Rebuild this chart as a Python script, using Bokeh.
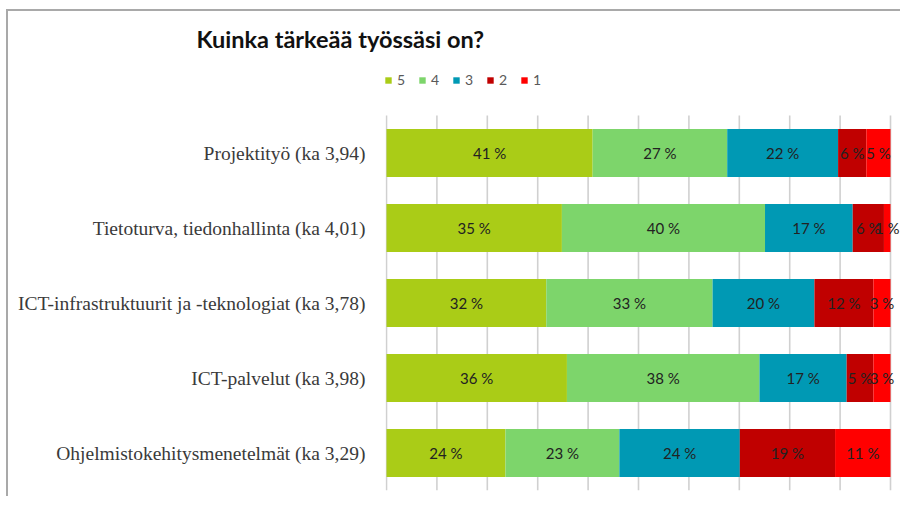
from bokeh.plotting import figure
from bokeh.models import (ColumnDataSource, Range1d, FixedTicker,
                          Legend, LegendItem, Title)
from bokeh.core.properties import value
from bokeh.embed import file_html
from bokeh.resources import INLINE

categories = [
    "Projektityö (ka 3,94)",
    "Tietoturva, tiedonhallinta (ka 4,01)",
    "ICT-infrastruktuurit ja -teknologiat (ka 3,78)",
    "ICT-palvelut (ka 3,98)",
    "Ohjelmistokehitysmenetelmät (ka 3,29)",
]
series_names = ["5", "4", "3", "2", "1"]
s5 = [40.9, 34.8, 31.7, 35.8, 23.6]
s4 = [26.7, 40.3, 33.0, 38.2, 22.6]
s3 = [22.0, 17.4, 20.2, 17.3, 23.9]
s2 = [5.6, 6.2, 11.7, 5.3, 18.9]
s1 = [4.8, 1.3, 3.4, 3.4, 11.0]
colors = ["#AACC17", "#7DD56B", "#0099B4", "#C00000", "#FF0000"]
grid_ticks = [0, 10, 20, 30, 40, 50, 60, 70, 80, 90, 100]
title_text = "Kuinka tärkeää työssäsi on?"

series = [s5, s4, s3, s2, s1]
keys = ["s5", "s4", "s3", "s2", "s1"]
n = len(categories)
ypos = [n - 1 - i for i in range(n)]          # first category on top
data = {"cat": categories, "y": ypos}
for k, s in zip(keys, series):
    data[k] = s
source = ColumnDataSource(data)

W = 894
PX_PER_ROW = 75.0
FRAME_H = 437
p = figure(
    width=W, height=487,
    x_range=Range1d(-0.2, -0.2 + (W - 377) / 5.04),
    y_range=Range1d(-0.5, -0.5 + FRAME_H / PX_PER_ROW),
    output_backend="svg", toolbar_location=None,
    min_border_left=377, min_border_right=0, min_border_top=42, min_border_bottom=8,
)
p.styles = {"margin-left": "8px", "margin-top": "11px",
            "box-shadow": "-2px -2px 0px 0px #a9a9a9"}
p.outline_line_color = None
p.background_fill_color = "white"
p.border_fill_color = "white"
p.grid.visible = False

# vertical gridlines spanning the category bands only
p.segment(x0=grid_ticks, x1=grid_ticks, y0=[min(ypos) - 0.5] * len(grid_ticks),
          y1=[max(ypos) + 0.5] * len(grid_ticks), line_color="#d0d0d0", line_width=1.6)

renderers = p.hbar_stack(keys, y="y", height=0.64, color=colors, line_color=None,
                         source=source)

lx, ly, lt = [], [], []
for i, c in enumerate(categories):
    left = 0.0
    for s in series:
        v = s[i]
        lx.append(left + v / 2)
        ly.append(ypos[i])
        lt.append(f"{round(v)} %")
        left += v
p.text(x=lx, y=ly, text=lt, text_align="center", text_baseline="middle",
       text_font=value("Lato"), text_font_size="15px", text_color="#222222")

p.xaxis.visible = False

yax = p.yaxis[0]
yax.ticker = FixedTicker(ticks=ypos)
yax.major_label_overrides = {y: c for y, c in zip(ypos, categories)}
yax.axis_line_color = None
yax.major_tick_line_color = None
yax.minor_tick_line_color = None
yax.major_label_text_font = "Liberation Serif"
yax.major_label_text_font_size = "19.5px"
yax.major_label_text_color = "#3a3a3a"
yax.major_label_standoff = 14

leg = Legend(items=[LegendItem(label=s, renderers=[r]) for s, r in zip(series_names, renderers)])
leg.orientation = "horizontal"
leg.location = (-1, 402)
leg.border_line_color = None
leg.background_fill_alpha = 0
leg.padding = 0
leg.margin = 0
leg.glyph_width = 8
leg.glyph_height = 8
leg.label_width = 10
leg.label_height = 14
leg.label_standoff = 5
leg.spacing = 11
leg.label_text_font = "Lato"
leg.label_text_font_size = "14px"
leg.label_text_color = "#595959"
p.add_layout(leg)

p.add_layout(Title(text=title_text, align="left", offset=-189, standoff=0,
                   vertical_align="middle",
                   text_font="Lato", text_font_style="bold", text_font_size="23.5px",
                   text_color="#111111"), "above")

open("out.html", "w").write(file_html(p, INLINE))
